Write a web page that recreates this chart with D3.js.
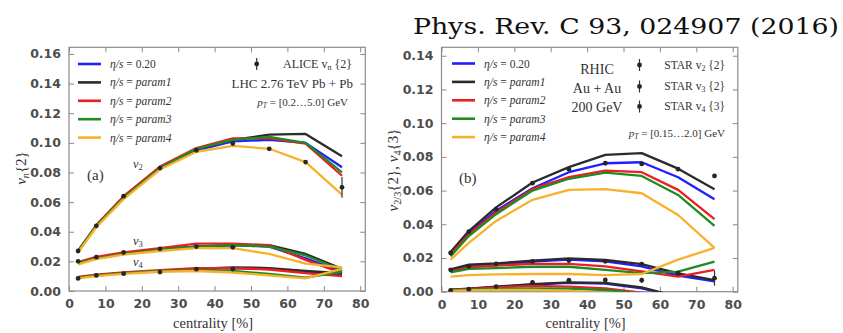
<!DOCTYPE html>
<html>
<head>
<meta charset="utf-8">
<script src="https://cdn.jsdelivr.net/npm/d3@7"></script>
<style>
  html, body { margin: 0; padding: 0; background: #fff; }
  svg { display: block; }
</style>
</head>
<body>
<script>
// Centrality bins (%) shared by both panels
const centrality = [2.5, 7.5, 15, 25, 35, 45, 55, 65, 75];

// Model labels (eta/s settings) and their line colours
const modelLabels = ["0.20", "param1", "param2", "param3", "param4"];
const modelColors = ["#1f1fff", "#2b2b2b", "#ee1c24", "#1e8c22", "#f7b12b"];

// Panel (a): LHC 2.76 TeV Pb+Pb, rows follow modelLabels
const lhcV2 = [
  [0.027, 0.044, 0.063, 0.083, 0.095, 0.101, 0.102, 0.100, 0.0835],
  [0.027, 0.044, 0.063, 0.083, 0.096, 0.102, 0.1055, 0.106, 0.091],
  [0.027, 0.0445, 0.064, 0.084, 0.0965, 0.103, 0.103, 0.0995, 0.0778],
  [0.027, 0.044, 0.063, 0.083, 0.096, 0.102, 0.104, 0.100, 0.080],
  [0.026, 0.043, 0.062, 0.082, 0.094, 0.098, 0.096, 0.087, 0.065]
];
const lhcV3 = [
  [0.019, 0.022, 0.025, 0.028, 0.030, 0.031, 0.030, 0.022, 0.013],
  [0.019, 0.022, 0.025, 0.028, 0.030, 0.031, 0.031, 0.025, 0.015],
  [0.0195, 0.023, 0.026, 0.029, 0.032, 0.032, 0.031, 0.021, 0.012],
  [0.019, 0.022, 0.025, 0.028, 0.030, 0.031, 0.030, 0.024, 0.014],
  [0.018, 0.0215, 0.0245, 0.027, 0.029, 0.029, 0.025, 0.0185, 0.016]
];
const lhcV4 = [
  [0.009, 0.0105, 0.012, 0.0135, 0.015, 0.0155, 0.015, 0.013, 0.011],
  [0.009, 0.0105, 0.012, 0.0135, 0.015, 0.016, 0.0155, 0.0135, 0.012],
  [0.0095, 0.011, 0.0125, 0.014, 0.0155, 0.0155, 0.0145, 0.012, 0.010],
  [0.009, 0.0105, 0.012, 0.0135, 0.014, 0.0135, 0.0115, 0.009, 0.013],
  [0.0085, 0.010, 0.0115, 0.013, 0.0135, 0.0125, 0.0105, 0.0085, 0.015]
];
// ALICE v_n{2} measurements
const aliceV2 = [0.027, 0.044, 0.064, 0.083, 0.095, 0.0995, 0.096, 0.087, 0.070];
const aliceV2Err = [0.0008, 0.0008, 0.0008, 0.0008, 0.0008, 0.001, 0.001, 0.0015, 0.007];
const aliceV3 = [0.020, 0.0228, 0.026, 0.0285, 0.030, 0.0295];
const aliceV3Err = [0.0008, 0.0008, 0.0008, 0.0008, 0.0008, 0.001];
const aliceV4 = [0.0085, 0.0105, 0.0117, 0.0128, 0.0147, 0.0148];
const aliceV4Err = [0.0008, 0.0008, 0.0008, 0.0008, 0.0008, 0.001];

// Panel (b): RHIC 200 GeV Au+Au, rows follow modelLabels
const rhicV2 = [
  [0.022, 0.035, 0.048, 0.0614, 0.0709, 0.0762, 0.0768, 0.0679, 0.0548],
  [0.0235, 0.036, 0.050, 0.0648, 0.0739, 0.0812, 0.0822, 0.073, 0.0608],
  [0.022, 0.034, 0.047, 0.061, 0.068, 0.0718, 0.0709, 0.0604, 0.043],
  [0.021, 0.033, 0.046, 0.060, 0.067, 0.0707, 0.0687, 0.0574, 0.039],
  [0.019, 0.029, 0.042, 0.0545, 0.0604, 0.0608, 0.0584, 0.0455, 0.026]
];
const rhicV3 = [
  [0.0128, 0.0155, 0.0162, 0.0178, 0.019, 0.018, 0.015, 0.0095, 0.0062],
  [0.0133, 0.016, 0.0168, 0.0184, 0.0198, 0.0188, 0.0164, 0.0109, 0.0069],
  [0.012, 0.0145, 0.0155, 0.0165, 0.0165, 0.015, 0.012, 0.009, 0.0129],
  [0.0115, 0.0135, 0.014, 0.0148, 0.0148, 0.013, 0.011, 0.0119, 0.0178],
  [0.009, 0.0098, 0.0103, 0.0105, 0.0105, 0.0098, 0.0105, 0.019, 0.026]
];
const rhicV4 = [
  [0.0011, 0.0017, 0.0028, 0.0042, 0.0052, 0.0048, 0.002, -0.003, -0.008],
  [0.0012, 0.0018, 0.003, 0.0045, 0.0055, 0.0052, 0.0025, -0.003, -0.008],
  [0.001, 0.0015, 0.0025, 0.0035, 0.003, 0.002, -0.0005, -0.004, -0.008],
  [0.0009, 0.0012, 0.0018, 0.002, 0.0018, 0.001, -0.001, -0.004, -0.008],
  [0.0005, 0.0008, 0.001, 0.001, 0.0005, -0.0005, -0.002, -0.005, -0.008]
];
// STAR measurements
const starV2 = [0.023, 0.0356, 0.0489, 0.0644, 0.0727, 0.0762, 0.0758, 0.0727, 0.0687];
const starV2Err = [0.0008, 0.0008, 0.0008, 0.0008, 0.0008, 0.0008, 0.0008, 0.001, 0.0008];
const starV3 = [0.013, 0.015, 0.0165, 0.018, 0.0185, 0.018, 0.0164, 0.011, 0.008];
const starV3Err = [0.001, 0.001, 0.001, 0.001, 0.001, 0.001, 0.0012, 0.0015, 0.0045];
const starV4 = [0.0008, 0.0015, 0.003, 0.0055, 0.0068, 0.007, 0.0068];
const starV4Err = [0.0008, 0.0008, 0.001, 0.001, 0.001, 0.0012, 0.0015];

const xTicks = [0, 10, 20, 30, 40, 50, 60, 70, 80];
const yTicksA = [0.00, 0.02, 0.04, 0.06, 0.08, 0.10, 0.12, 0.14, 0.16];
const yTicksB = [0.00, 0.02, 0.04, 0.06, 0.08, 0.10, 0.12, 0.14];

const W = 843, H = 333;
const svg = d3.select("body").append("svg").attr("width", W).attr("height", H);

const serif = "'Liberation Serif', 'DejaVu Serif', serif";
const sans = "'DejaVu Sans', sans-serif";
const frameColor = "#8a8a8a";
const tickText = "#4d4d4d";

// Journal reference in the top-right corner
svg.append("text")
  .attr("x", 413).attr("y", 34)
  .attr("font-family", "'DejaVu Serif', serif")
  .attr("font-size", 22)
  .attr("textLength", 426)
  .attr("lengthAdjust", "spacingAndGlyphs")
  .attr("fill", "#111")
  .text("Phys. Rev. C 93, 024907 (2016)");

function drawPanel(p) {
  const x = d3.scaleLinear().domain([0, 81.4]).range([p.left, p.right]);
  const y = d3.scaleLinear().domain([0, p.yMax]).range([p.bottom, p.top]);
  const g = svg.append("g");
  const clipId = "clip-" + p.id;
  g.append("clipPath").attr("id", clipId)
    .append("rect")
    .attr("x", p.left).attr("y", p.top)
    .attr("width", p.right - p.left).attr("height", p.bottom - p.top);

  // Axes with inward ticks on all four sides
  const tl = 5;
  g.append("g").attr("transform", `translate(0,${p.bottom})`)
    .call(d3.axisBottom(x).tickValues(xTicks).tickSizeInner(-tl).tickSizeOuter(0).tickPadding(8).tickFormat(d3.format("d")))
    .call(a => a.select(".domain").remove());
  g.append("g").attr("transform", `translate(0,${p.top})`)
    .call(d3.axisTop(x).tickValues(xTicks).tickSizeInner(-tl).tickSizeOuter(0).tickFormat(""))
    .call(a => a.select(".domain").remove());
  g.append("g").attr("transform", `translate(${p.left},0)`)
    .call(d3.axisLeft(y).tickValues(p.yTicks).tickSizeInner(-tl).tickSizeOuter(0).tickPadding(8).tickFormat(d3.format(".2f")))
    .call(a => a.select(".domain").remove());
  g.append("g").attr("transform", `translate(${p.right},0)`)
    .call(d3.axisRight(y).tickValues(p.yTicks).tickSizeInner(-tl).tickSizeOuter(0).tickFormat(""))
    .call(a => a.select(".domain").remove());
  g.selectAll(".tick line").attr("stroke", frameColor).attr("stroke-width", 1);
  g.selectAll(".tick text")
    .attr("font-family", sans).attr("font-size", 12.5)
    .attr("font-weight", "bold").attr("fill", tickText);

  g.append("rect")
    .attr("x", p.left).attr("y", p.top)
    .attr("width", p.right - p.left).attr("height", p.bottom - p.top)
    .attr("fill", "none").attr("stroke", frameColor).attr("stroke-width", 1.2);

  // Model curves
  const line = d3.line().x((d, i) => x(centrality[i])).y(d => y(d));
  const curves = g.append("g").attr("clip-path", `url(#${clipId})`);
  p.models.forEach(set => {
    set.forEach((vals, k) => {
      curves.append("path")
        .attr("d", line(vals))
        .attr("fill", "none")
        .attr("stroke", modelColors[k])
        .attr("stroke-width", 2.3)
        .attr("stroke-linejoin", "round");
    });
  });

  // Measurements with error bars
  const pts = g.append("g").attr("clip-path", `url(#${clipId})`);
  p.data.forEach(([vals, errs]) => {
    vals.forEach((v, i) => {
      const cx = x(centrality[i]);
      pts.append("line")
        .attr("x1", cx).attr("x2", cx)
        .attr("y1", y(v - errs[i])).attr("y2", y(v + errs[i]))
        .attr("stroke", "#333").attr("stroke-width", 1.2);
      pts.append("circle")
        .attr("cx", cx).attr("cy", y(v)).attr("r", 2.4)
        .attr("fill", "#262626");
    });
  });

  // Legend for the model curves
  const lg = g.append("g");
  modelLabels.forEach((lab, k) => {
    const ly = p.legendY + k * 18.4;
    lg.append("line")
      .attr("x1", p.legendX).attr("x2", p.legendX + 23)
      .attr("y1", ly).attr("y2", ly)
      .attr("stroke", modelColors[k]).attr("stroke-width", 2.6);
    const t = lg.append("text")
      .attr("x", p.legendX + 32).attr("y", ly + 4)
      .attr("font-family", serif).attr("font-size", 11.5).attr("fill", "#333");
    t.append("tspan").attr("font-style", "italic").text("η/s");
    t.append("tspan").text(" = ");
    t.append("tspan").attr("font-style", lab.startsWith("param") ? "italic" : "normal").text(lab);
  });

  // Axis titles
  g.append("text")
    .attr("x", (p.left + p.right) / 2 - 4).attr("y", 328)
    .attr("text-anchor", "middle")
    .attr("font-family", serif).attr("font-size", 14.5).attr("fill", "#333")
    .text("centrality [%]");

  return { x, y, g };
}

function mathText(parent, x, y, parts, opts) {
  const t = parent.append("text")
    .attr("x", x).attr("y", y)
    .attr("font-family", serif).attr("font-size", opts.size).attr("fill", "#333");
  if (opts.anchor) t.attr("text-anchor", opts.anchor);
  if (opts.rotate) t.attr("transform", `rotate(-90,${x},${y})`);
  parts.forEach(([txt, style]) => {
    const s = t.append("tspan").text(txt);
    if (style === "i") s.attr("font-style", "italic");
    if (style === "sub") s.attr("font-size", opts.size * 0.68).attr("baseline-shift", "-25%").attr("font-style", "italic");
    if (style === "subr") s.attr("font-size", opts.size * 0.68).attr("baseline-shift", "-25%");
  });
  return t;
}

function marker(parent, cx, cy) {
  parent.append("line").attr("x1", cx).attr("x2", cx).attr("y1", cy - 6).attr("y2", cy + 6)
    .attr("stroke", "#333").attr("stroke-width", 1.2);
  parent.append("circle").attr("cx", cx).attr("cy", cy).attr("r", 2.4).attr("fill", "#262626");
}

// Panel (a)
const A = drawPanel({
  id: "a", left: 69, right: 365.3, top: 47.3, bottom: 291, yMax: 0.1645,
  yTicks: yTicksA, models: [lhcV2, lhcV3, lhcV4],
  data: [[aliceV2, aliceV2Err], [aliceV3, aliceV3Err], [aliceV4, aliceV4Err]],
  legendX: 78, legendY: 64
});
mathText(svg, 26, 168, [["v", "i"], ["n", "sub"], ["{2}", ""]], { size: 15, anchor: "middle", rotate: true });
marker(svg, 256.7, 64);
mathText(svg, 352, 68, [["ALICE v", ""], ["n", "subr"], [" {2}", ""]], { size: 12, anchor: "end" });
mathText(svg, 353, 87.5, [["LHC 2.76 TeV Pb + Pb", ""]], { size: 13, anchor: "end" });
mathText(svg, 348, 106, [["p", "i"], ["T", "sub"], [" = [0.2…5.0] GeV", ""]], { size: 11, anchor: "end" });
mathText(svg, 87, 180, [["(a)", ""]], { size: 15 });
mathText(svg, 133, 168, [["v", "i"], ["2", "subr"]], { size: 12.5 });
mathText(svg, 133, 245, [["v", "i"], ["3", "subr"]], { size: 12.5 });
mathText(svg, 133, 266, [["v", "i"], ["4", "subr"]], { size: 12.5 });

// Panel (b)
const B = drawPanel({
  id: "b", left: 441.5, right: 737.8, top: 47.3, bottom: 291.7, yMax: 0.145,
  yTicks: yTicksB, models: [rhicV2, rhicV3, rhicV4],
  data: [[starV2, starV2Err], [starV3, starV3Err], [starV4, starV4Err]],
  legendX: 452, legendY: 63.5
});
mathText(svg, 398, 170, [["v", "i"], ["2/3", "subr"], ["{2}, ", ""], ["v", "i"], ["4", "subr"], ["{3}", ""]], { size: 15, anchor: "middle", rotate: true });
mathText(svg, 597, 73.5, [["RHIC", ""]], { size: 14, anchor: "middle" });
mathText(svg, 597, 92.5, [["Au + Au", ""]], { size: 14, anchor: "middle" });
mathText(svg, 597, 111.5, [["200 GeV", ""]], { size: 14, anchor: "middle" });
marker(svg, 639.5, 65);
marker(svg, 639.5, 86.5);
marker(svg, 639.5, 106.5);
mathText(svg, 725, 68.5, [["STAR v", ""], ["2", "subr"], [" {2}", ""]], { size: 11.5, anchor: "end" });
mathText(svg, 725, 90, [["STAR v", ""], ["3", "subr"], [" {2}", ""]], { size: 11.5, anchor: "end" });
mathText(svg, 725, 110, [["STAR v", ""], ["4", "subr"], [" {3}", ""]], { size: 11.5, anchor: "end" });
mathText(svg, 725, 136.5, [["p", "i"], ["T", "sub"], [" = [0.15…2.0] GeV", ""]], { size: 11, anchor: "end" });
mathText(svg, 459, 183, [["(b)", ""]], { size: 15 });
</script>
</body>
</html>
